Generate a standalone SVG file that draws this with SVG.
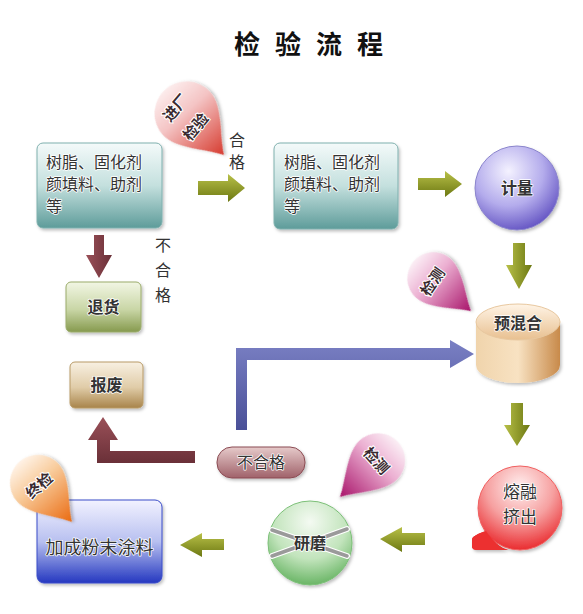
<svg xmlns="http://www.w3.org/2000/svg" width="583" height="614" viewBox="0 0 583 614">
<defs>
<style>
.t{font-family:"Noto Sans CJK SC","Liberation Sans",sans-serif;fill:#333;stroke:#fff;stroke-width:1.5;paint-order:stroke;stroke-linejoin:round}
.lbl{font-family:"Noto Sans CJK SC","Liberation Sans",sans-serif;fill:#333;font-size:16px}
.dt{font-family:"Noto Sans CJK SC","Liberation Sans",sans-serif;fill:#3a2a30;stroke:#fff;stroke-width:2;paint-order:stroke;font-size:15px;font-weight:bold;text-anchor:middle}
.green{fill:url(#gOlive)}
.maroon{fill:url(#gMaroon)}
</style>
<linearGradient id="gTeal" x1="0" y1="0" x2="0" y2="1"><stop offset="0" stop-color="#f4fafa"/><stop offset="0.5" stop-color="#c4e0de"/><stop offset="1" stop-color="#5e9c9a"/></linearGradient>
<linearGradient id="gGreenBox" x1="0" y1="0" x2="0" y2="1"><stop offset="0" stop-color="#f2f6e4"/><stop offset="0.55" stop-color="#c9d6a6"/><stop offset="1" stop-color="#869a4e"/></linearGradient>
<linearGradient id="gTan" x1="0" y1="0" x2="0" y2="1"><stop offset="0" stop-color="#f8f0e2"/><stop offset="0.55" stop-color="#e0cca8"/><stop offset="1" stop-color="#a8844a"/></linearGradient>
<linearGradient id="gPill" x1="0" y1="0" x2="0" y2="1"><stop offset="0" stop-color="#e6caca"/><stop offset="1" stop-color="#a0626a"/></linearGradient>
<linearGradient id="gBlueBox" x1="0" y1="0" x2="0" y2="1"><stop offset="0" stop-color="#f2f2ff"/><stop offset="0.5" stop-color="#b8c0f0"/><stop offset="1" stop-color="#2438c0"/></linearGradient>
<linearGradient id="gOlive" x1="0" y1="0" x2="0" y2="1"><stop offset="0" stop-color="#b8c048"/><stop offset="1" stop-color="#6c7812"/></linearGradient>
<linearGradient id="gOliveV" x1="0" y1="0" x2="1" y2="0"><stop offset="0" stop-color="#b8c048"/><stop offset="1" stop-color="#6c7812"/></linearGradient>
<linearGradient id="gMaroon" x1="0" y1="0" x2="0" y2="1"><stop offset="0" stop-color="#9a5058"/><stop offset="1" stop-color="#6a3038"/></linearGradient>
<linearGradient id="gMaroonV" x1="0" y1="0" x2="1" y2="0"><stop offset="0" stop-color="#9a5058"/><stop offset="1" stop-color="#6a3038"/></linearGradient>
<linearGradient id="gBlueArrow" x1="0" y1="0" x2="0" y2="1"><stop offset="0" stop-color="#7a80c4"/><stop offset="1" stop-color="#4a5098"/></linearGradient>
<radialGradient id="gViolet" cx="0.4" cy="0.3" r="0.75"><stop offset="0" stop-color="#f4f2ff"/><stop offset="0.55" stop-color="#b4acec"/><stop offset="1" stop-color="#5e4ec0"/></radialGradient>
<radialGradient id="gMint" cx="0.5" cy="0.25" r="0.8"><stop offset="0" stop-color="#f4faf2"/><stop offset="0.55" stop-color="#c2e4bc"/><stop offset="1" stop-color="#5cae58"/></radialGradient>
<radialGradient id="gRed" cx="0.5" cy="0.25" r="0.8"><stop offset="0" stop-color="#fff0f0"/><stop offset="0.5" stop-color="#f6a0a0"/><stop offset="1" stop-color="#e81c20"/></radialGradient>
<linearGradient id="gCylBody" x1="0" y1="0" x2="1" y2="0"><stop offset="0" stop-color="#f0d4ac"/><stop offset="0.5" stop-color="#f8e2c2"/><stop offset="1" stop-color="#c88a4a"/></linearGradient>
<linearGradient id="gCylTop" x1="0" y1="0" x2="0" y2="1"><stop offset="0" stop-color="#fff4e6"/><stop offset="1" stop-color="#e8c090"/></linearGradient>
<linearGradient id="dRed" x1="0" y1="0" x2="0" y2="1"><stop offset="0" stop-color="#fcecec"/><stop offset="0.35" stop-color="#f4c4c4"/><stop offset="1" stop-color="#d63a2e"/></linearGradient>
<linearGradient id="dMag" x1="0" y1="0" x2="0" y2="1"><stop offset="0" stop-color="#fbeef5"/><stop offset="0.35" stop-color="#ecb0d2"/><stop offset="1" stop-color="#a8146a"/></linearGradient>
<linearGradient id="dOrange" x1="0" y1="0" x2="0" y2="1"><stop offset="0" stop-color="#fff2e6"/><stop offset="0.35" stop-color="#f8cc9c"/><stop offset="1" stop-color="#ea6a10"/></linearGradient>
<filter id="sh" x="-20%" y="-20%" width="150%" height="150%"><feDropShadow dx="1.5" dy="2" stdDeviation="1.5" flood-color="#000" flood-opacity="0.25"/></filter>
</defs>
<rect width="583" height="614" fill="#fff"/>

<text id="title" x="234" y="54" font-family="Noto Sans CJK SC, Liberation Sans, sans-serif" font-size="26" font-weight="bold" letter-spacing="15" fill="#111">检验流程</text>

<g id="connectors">
<polygon class="green" points="198,181 228,181 228,174 245,188 228,202 228,195 198,195"/>
<polygon class="green" points="418,178 445,178 445,171 462,184 445,197 445,190 418,190"/>
<polygon fill="url(#gOliveV)" points="513,243 525,243 525,265 532,265 519,289 506,265 513,265"/>
<polygon fill="url(#gOliveV)" points="511,403 523,403 523,425 530,425 517,446 504,425 511,425"/>
<polygon class="green" points="425,533 402,533 402,527 380,539 402,552 402,545 425,545"/>
<polygon class="green" points="224,539 202,539 202,533 180,545 202,557 202,550 224,550"/>
<polygon fill="url(#gBlueArrow)" points="236,430 247,430 247,360 450,360 450,368 474,354 450,340 450,348 236,348"/>
<polygon class="maroon" points="195,451 110,451 110,440 118,440 103,417 88,440 97,440 97,463 195,463"/>
<polygon fill="url(#gMaroonV)" points="94,235 104,235 104,255 112,255 99,278 86,255 94,255"/>
<text class="lbl" x="229" y="146">合</text>
<text class="lbl" x="229" y="168">格</text>
<text class="lbl" x="155" y="251">不</text>
<text class="lbl" x="155" y="276">合</text>
<text class="lbl" x="155" y="301">格</text>
</g>

<g id="drop-inspect-in">
<path filter="url(#sh)" fill="url(#dRed)" transform="translate(224,155) rotate(-42)" d="M0,0 C-10,-18 -32,-37 -32,-56 A32,32 0 1 1 32,-56 C32,-37 10,-18 0,0 Z"/>
<text class="dt" transform="translate(176,108) rotate(-50)" x="0" y="5">进厂</text>
<text class="dt" transform="translate(196,127) rotate(-50)" x="0" y="5">检验</text>
</g>

<g id="box-raw1">
<rect x="37" y="143" width="125" height="85" rx="6" fill="url(#gTeal)" stroke="#7fb0ae" filter="url(#sh)"/>
<text class="t" font-size="16" x="46" y="168">树脂、固化剂</text>
<text class="t" font-size="16" x="46" y="190">颜填料、助剂</text>
<text class="t" font-size="16" x="46" y="212">等</text>
</g>

<g id="box-raw2">
<rect x="274" y="143" width="124" height="86" rx="6" fill="url(#gTeal)" stroke="#7fb0ae" filter="url(#sh)"/>
<text class="t" font-size="16" x="284" y="168">树脂、固化剂</text>
<text class="t" font-size="16" x="284" y="190">颜填料、助剂</text>
<text class="t" font-size="16" x="284" y="212">等</text>
</g>

<g id="node-meter">
<circle cx="517" cy="188" r="42" fill="url(#gViolet)" stroke="#8a84cc" filter="url(#sh)"/>
<text class="t" font-size="16" font-weight="bold" x="517" y="194" text-anchor="middle">计量</text>
</g>

<g id="box-return">
<rect x="66" y="282" width="75" height="50" rx="5" fill="url(#gGreenBox)" stroke="#9aab6a" filter="url(#sh)"/>
<text class="t" font-size="16" font-weight="bold" x="103.5" y="313" text-anchor="middle">退货</text>
</g>

<g id="box-scrap">
<rect x="70" y="362" width="73" height="46" rx="5" fill="url(#gTan)" stroke="#b89a66" filter="url(#sh)"/>
<text class="t" font-size="16" font-weight="bold" x="106.5" y="391" text-anchor="middle">报废</text>
</g>

<g id="drop-inspect-mix">
<path filter="url(#sh)" fill="url(#dMag)" transform="translate(471,311) rotate(-49)" d="M0,0 C-8,-15 -26,-33 -26,-50 A26,26 0 1 1 26,-50 C26,-33 8,-15 0,0 Z"/>
<text class="dt" transform="translate(433,282) rotate(-55)" x="0" y="5">检测</text>
</g>

<g id="node-premix">
<path d="M476,322 L476,365 A42,18 0 0 0 560,365 L560,322 Z" fill="url(#gCylBody)" filter="url(#sh)"/>
<ellipse cx="518" cy="322" rx="42" ry="18" fill="url(#gCylTop)" stroke="#e8c8a0"/>
<text class="t" font-size="16" font-weight="bold" x="518" y="329" text-anchor="middle">预混合</text>
</g>

<g id="node-unqualified">
<rect x="217" y="447" width="88" height="31" rx="15" fill="url(#gPill)" stroke="#8a4a52" filter="url(#sh)"/>
<text class="t" font-size="16" x="261" y="468" text-anchor="middle">不合格</text>
</g>

<g id="drop-inspect-grind">
<path filter="url(#sh)" fill="url(#dMag)" transform="translate(340,497) rotate(46)" d="M0,0 C-8,-16 -27,-35 -27,-53 A27,27 0 1 1 27,-53 C27,-35 8,-16 0,0 Z"/>
<text class="dt" transform="translate(376,461) rotate(48)" x="0" y="5">检测</text>
</g>

<g id="node-extrude">
<path d="M486,531 C478,534 472,536 472,540 L472,546 C472,549 474,550 478,550 L508,550 C500,548 494,542 486,531 Z" fill="#ea2a2a" filter="url(#sh)"/>
<circle cx="520" cy="508" r="42" fill="url(#gRed)" stroke="#f06060" filter="url(#sh)"/>
<path d="M486,531 C478,534 472,536 472,540 L472,546 C472,549 474,550 478,550 L508,550 C500,548 494,542 486,531 Z" fill="#ec3030"/>
<text class="t" font-size="17" x="520" y="498" text-anchor="middle">熔融</text>
<text class="t" font-size="17" x="520" y="523" text-anchor="middle">挤出</text>
</g>

<g id="node-grind">
<circle cx="310" cy="543" r="42" fill="url(#gMint)" stroke="#7cc078" filter="url(#sh)"/>
<g stroke="#fff" stroke-width="6" stroke-linecap="round">
<line x1="272" y1="530" x2="347" y2="556"/><line x1="272" y1="556" x2="347" y2="529"/>
</g>
<g stroke="#9a9a9a" stroke-width="3.5" stroke-linecap="round">
<line x1="272" y1="530" x2="347" y2="556"/><line x1="272" y1="556" x2="347" y2="529"/>
</g>
<text class="t" font-size="16" font-weight="bold" x="310" y="549" text-anchor="middle">研磨</text>
</g>

<g id="box-final">
<rect x="37" y="500" width="125" height="83" rx="7" fill="url(#gBlueBox)" stroke="#3a4cc8" filter="url(#sh)"/>
<text class="t" font-size="18" x="99.5" y="554" text-anchor="middle" fill="#111">加成粉末涂料</text>
</g>

<g id="drop-final-check">
<path filter="url(#sh)" fill="url(#dOrange)" transform="translate(72,522) rotate(-41)" d="M0,0 C-8,-16 -28,-34 -28,-52 A28,28 0 1 1 28,-52 C28,-34 8,-16 0,0 Z"/>
<text class="dt" font-size="17" transform="translate(39,485) rotate(-42)" x="0" y="6">终检</text>
</g>
</svg>
